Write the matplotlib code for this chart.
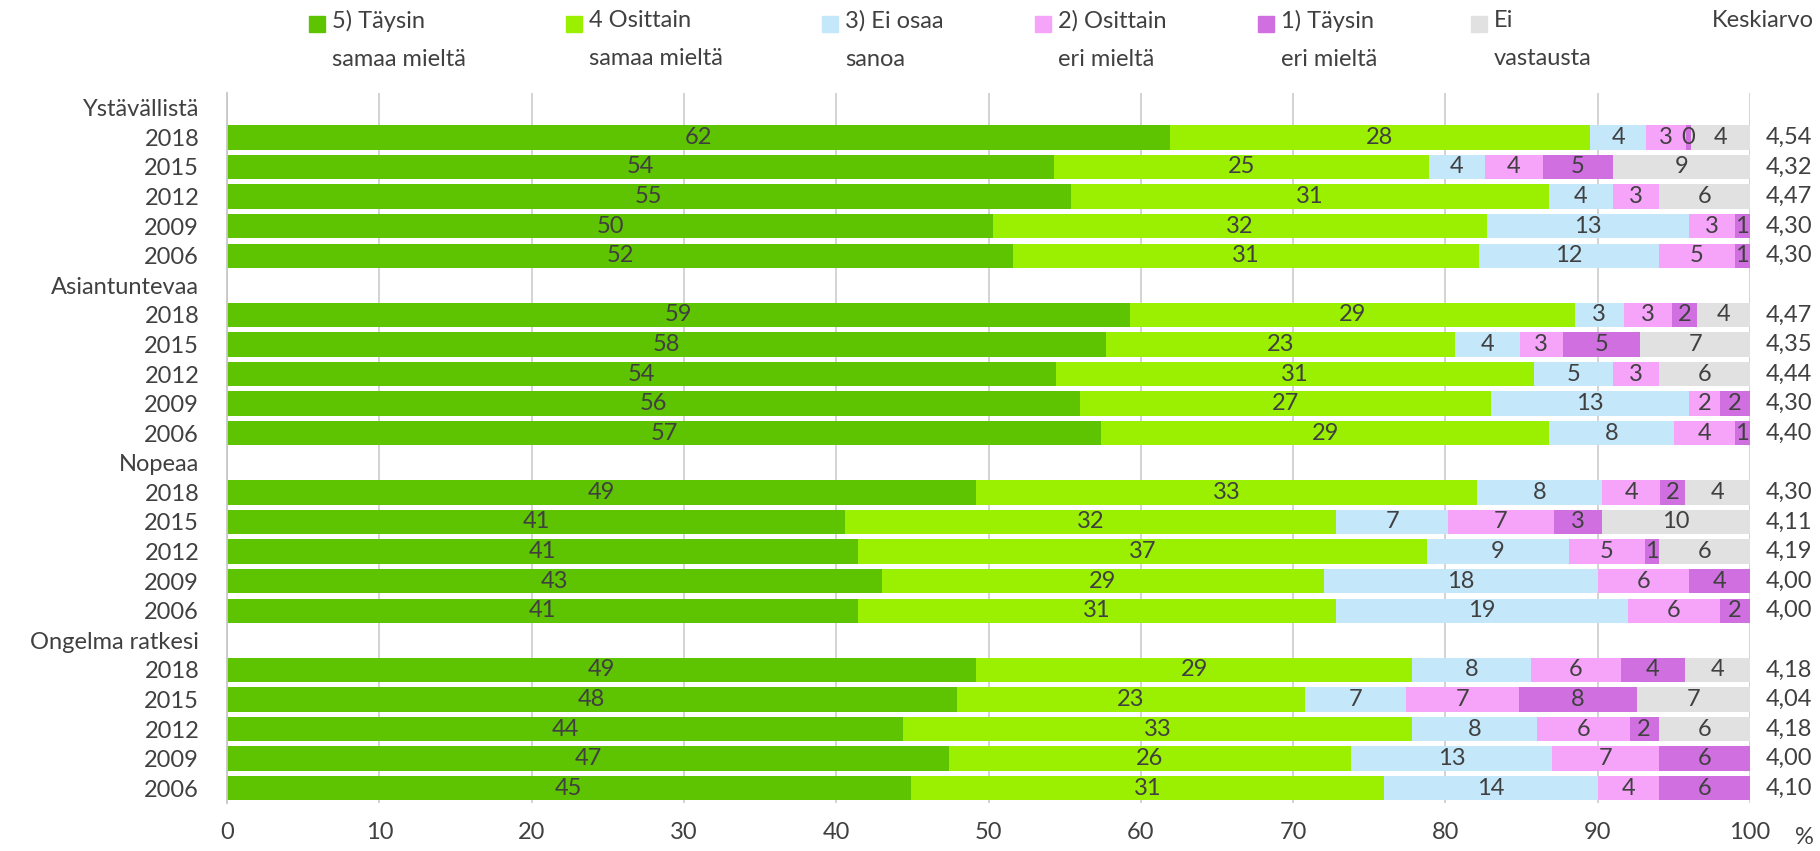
import matplotlib
matplotlib.use("Agg")
import matplotlib.pyplot as plt
import matplotlib.transforms as mtransforms
from matplotlib.patches import Rectangle

plt.rcParams['font.family'] = ['Lato', 'DejaVu Sans']

# data (% shares), years inside each group
groups = ["Ystävällistä", "Asiantuntevaa", "Nopeaa", "Ongelma ratkesi"]
years = ["2018", "2015", "2012", "2009", "2006"]

taysin_samaa = [61.9, 54.3, 55.4, 50.3, 51.6,
                59.3, 57.7, 54.4, 56.0, 57.4,
                49.2, 40.6, 41.4, 43.0, 41.4,
                49.2, 47.9, 44.4, 47.4, 44.9]
osittain_samaa = [27.6, 24.6, 31.4, 32.4, 30.6,
                  29.2, 22.9, 31.4, 27.0, 29.4,
                  32.9, 32.2, 37.4, 29.0, 31.4,
                  28.6, 22.9, 33.4, 26.4, 31.1]
ei_osaa = [3.7, 3.7, 4.2, 13.3, 11.8,
           3.2, 4.3, 5.2, 13.0, 8.2,
           8.2, 7.4, 9.3, 18.0, 19.2,
           7.8, 6.6, 8.2, 13.2, 14.0]
osittain_eri = [2.6, 3.8, 3.0, 3.0, 5.0,
                3.2, 2.8, 3.0, 2.0, 4.0,
                3.8, 6.9, 5.0, 6.0, 6.0,
                5.9, 7.4, 6.1, 7.0, 4.0]
taysin_eri = [0.3, 4.6, 0.0, 1.0, 1.0,
              1.6, 5.1, 0.0, 2.0, 1.0,
              1.6, 3.2, 0.9, 4.0, 2.0,
              4.2, 7.8, 1.9, 6.0, 6.0]
ei_vastausta = [3.9, 9.0, 6.0, 0.0, 0.0,
                3.5, 7.2, 6.0, 0.0, 0.0,
                4.3, 9.7, 6.0, 0.0, 0.0,
                4.3, 7.4, 6.0, 0.0, 0.0]
keskiarvo = ["4,54", "4,32", "4,47", "4,30", "4,30",
             "4,47", "4,35", "4,44", "4,30", "4,40",
             "4,30", "4,11", "4,19", "4,00", "4,00",
             "4,18", "4,04", "4,18", "4,00", "4,10"]

series = [taysin_samaa, osittain_samaa, ei_osaa, osittain_eri, taysin_eri, ei_vastausta]
legend_labels = ["5) Täysin\nsamaa mieltä", "4 Osittain\nsamaa mieltä", "3) Ei osaa\nsanoa",
                 "2) Osittain\neri mieltä", "1) Täysin\neri mieltä", "Ei\nvastausta"]
colors = ["#5ec300", "#9af000", "#c4e7fa", "#f5a4fa", "#cf6fe0", "#e1e1e1"]
txt = "#404040"
fs = 17

# row layout: group header row then the five years
rows_lbl = []
bar_rows = []
r = 0
for g in groups:
    rows_lbl.append(g)
    r += 1
    for y in years:
        rows_lbl.append(y)
        bar_rows.append(r)
        r += 1

fig = plt.figure(figsize=(18.2, 8.51), dpi=100)
ax = fig.add_axes([227 / 1820, 1 - 803 / 851, 1523 / 1820, 710 / 851])

left = [0.0] * len(bar_rows)
for vals, col in zip(series, colors):
    ax.barh(bar_rows, vals, left=left, height=0.82, color=col, zorder=2)
    for yy, l, v in zip(bar_rows, left, vals):
        if v > 0:
            ax.text(l + v / 2, yy, f"{v:.0f}", ha="center", va="center",
                    fontsize=fs, color=txt, zorder=3)
    left = [a + b for a, b in zip(left, vals)]

ax.set_xlim(0, 100)
ax.set_ylim(len(rows_lbl) - 0.5, -0.5)
ax.set_xticks(range(0, 101, 10))
ax.set_yticks(range(len(rows_lbl)))
ax.set_yticklabels(rows_lbl)
ax.tick_params(axis="both", length=0, labelsize=fs, labelcolor=txt)
ax.tick_params(axis="y", pad=20)
ax.tick_params(axis="x", pad=14)
ax.xaxis.grid(True, color="#d0d0d0", linewidth=1.3, zorder=0)
for s in ["top", "right", "bottom"]:
    ax.spines[s].set_visible(False)
ax.spines["left"].set_color("#c8c8c8")
ax.spines["left"].set_linewidth(1.3)

# average column
trans = mtransforms.blended_transform_factory(fig.transFigure, ax.transData)
for yy, k in zip(bar_rows, keskiarvo):
    ax.text(1789 / 1820, yy, k, transform=trans, ha="center", va="center",
            fontsize=fs, color=txt)

fig.text(1814 / 1820, 1 - 838 / 851, "%", ha="right", va="center", fontsize=fs, color=txt)

# legend drawn by hand across the top
legend_x = [309, 566, 822, 1035, 1258, 1471]
for x, lab, col in zip(legend_x, legend_labels, colors):
    fig.patches.append(Rectangle((x / 1820, 1 - 32 / 851), 16 / 1820, 16 / 851,
                                 transform=fig.transFigure, color=col))
    fig.text((x + 23) / 1820, 1 - 10 / 851, lab, ha="left", va="top",
             fontsize=fs, color=txt, linespacing=2.0)
fig.text(1814 / 1820, 1 - 10 / 851, "Keskiarvo", ha="right", va="top", fontsize=fs, color=txt)

fig.savefig("out.png", dpi=100)
